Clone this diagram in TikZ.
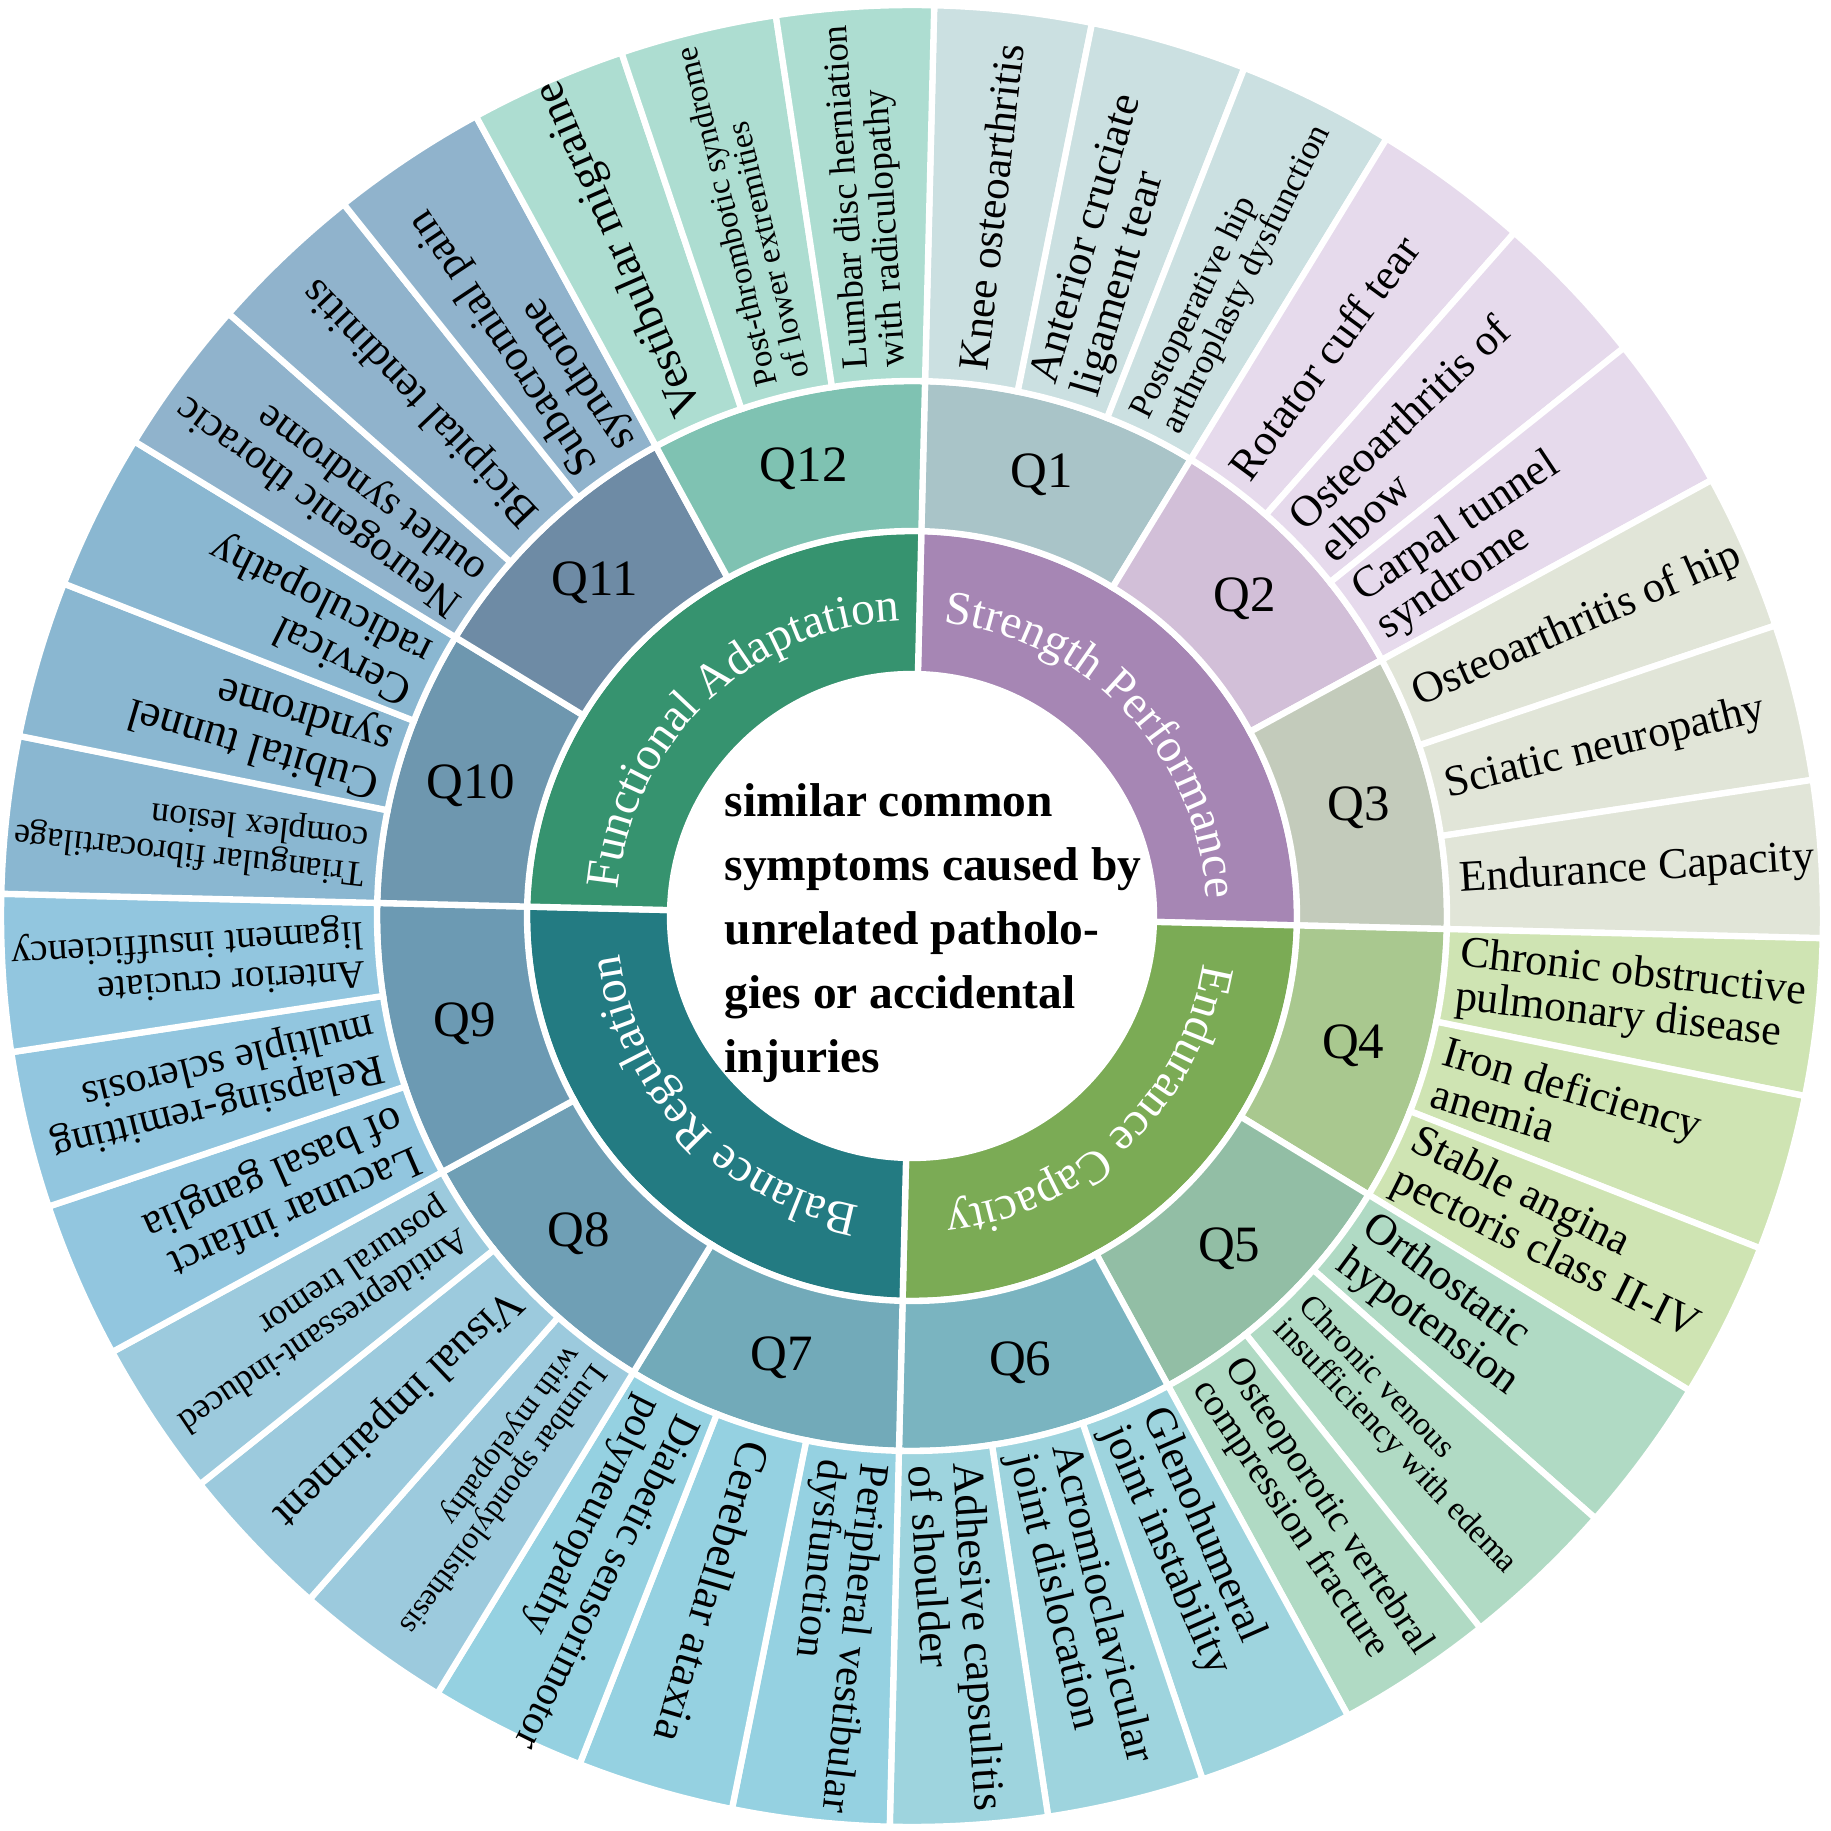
\documentclass[tikz,border=0pt]{standalone}
\usepackage{fontspec}
\setmainfont{Liberation Serif}
\usetikzlibrary{decorations.text}

\definecolor{catstrength}{HTML}{A686B4}
\definecolor{catendurance}{HTML}{7BAB55}
\definecolor{catbalance}{HTML}{237B82}
\definecolor{catfunction}{HTML}{36936F}
\definecolor{qcol1}{HTML}{A9C4C8}
\definecolor{qcol2}{HTML}{D2BFD8}
\definecolor{qcol3}{HTML}{C3CBBB}
\definecolor{qcol4}{HTML}{A9C88F}
\definecolor{qcol5}{HTML}{92BEA5}
\definecolor{qcol6}{HTML}{7AB4C0}
\definecolor{qcol7}{HTML}{72AAB9}
\definecolor{qcol8}{HTML}{6F9FB5}
\definecolor{qcol9}{HTML}{6C9AB3}
\definecolor{qcol10}{HTML}{6E97AF}
\definecolor{qcol11}{HTML}{6E8BA5}
\definecolor{qcol12}{HTML}{7FC2B2}
\definecolor{leaf1}{HTML}{CBE0E1}
\definecolor{leaf2}{HTML}{E6DAEC}
\definecolor{leaf3}{HTML}{E1E5D8}
\definecolor{leaf4}{HTML}{CFE4B3}
\definecolor{leaf5}{HTML}{B0DAC4}
\definecolor{leaf6}{HTML}{9ED4DE}
\definecolor{leaf7}{HTML}{95D1E1}
\definecolor{leaf8}{HTML}{9CCADD}
\definecolor{leaf9}{HTML}{92C6DF}
\definecolor{leaf10}{HTML}{8AB7D1}
\definecolor{leaf11}{HTML}{90B3CC}
\definecolor{leaf12}{HTML}{ADDDD1}

\newcommand{\catfont}{\fontsize{13.5}{15}\selectfont}
\newcommand{\ringpart}[5]{%
  \fill[#5, draw=white, line width=1.8pt] (#1:#3) arc[start angle=#1, end angle=#2, radius=#3]
    -- (#2:#4) arc[start angle=#2, end angle=#1, radius=#4] -- cycle;}

% angle/size/colour/text of the outer leaves, clockwise from the top
\def\leaflist{85/12.3/leaf1/{Knee osteoarthritis},
  75/12.5/leaf1/{Anterior cruciate\\ligament tear},
  65/9.9/leaf1/{Postoperative hip\\arthroplasty dysfunction},
  55/12.5/leaf2/{Rotator cuff tear},
  45/12.5/leaf2/{Osteoarthritis of\\elbow},
  35/12.5/leaf2/{Carpal tunnel\\syndrome},
  25/12.5/leaf3/{Osteoarthritis of hip},
  15/12.5/leaf3/{Sciatic neuropathy},
  5/12.5/leaf3/{Endurance Capacity},
  -5/12.5/leaf4/{Chronic obstructive\\pulmonary disease},
  -15/12.5/leaf4/{Iron deficiency\\anemia},
  -25/12.5/leaf4/{Stable angina\\pectoris class II-IV},
  -35/12.5/leaf5/{Orthostatic\\hypotension},
  -45/9.5/leaf5/{Chronic venous\\insufficiency with edema},
  -55/11/leaf5/{Osteoporotic vertebral\\compression fracture},
  -65/12.5/leaf6/{Glenohumeral\\joint instability},
  -75/12.4/leaf6/{Acromioclavicular\\joint dislocation},
  -85/12.7/leaf6/{Adhesive capsulitis\\of shoulder},
  -95/12/leaf7/{Peripheral vestibular\\dysfunction},
  -105/13/leaf7/{Cerebellar ataxia},
  -115/11.8/leaf7/{Diabetic sensorimotor\\polyneuropathy},
  -125/9/leaf8/{Lumbar spondylolisthesis\\with myelopathy},
  -135/12.5/leaf8/{Visual impairment},
  -145/10.2/leaf8/{Antidepressant-induced\\postural tremor},
  -155/12.5/leaf9/{Lacunar infarct\\of basal ganglia},
  -165/12.1/leaf9/{Relapsing-remitting\\multiple sclerosis},
  -175/11.2/leaf9/{Anterior cruciate\\ligament insufficiency},
  175/10.2/leaf10/{Triangular fibrocartilage\\complex lesion},
  165/13/leaf10/{Cubital tunnel\\syndrome},
  155/12.5/leaf10/{Cervical\\radiculopathy},
  145/12/leaf11/{Neurogenic thoracic\\outlet syndrome},
  135/12.4/leaf11/{Bicipital tendinitis},
  125/12.5/leaf11/{Subacromial pain\\syndrome},
  115/13/leaf12/{Vestibular migraine},
  105/9.3/leaf12/{Post-thrombotic syndrome\\of lower extremities},
  95/10.5/leaf12/{Lumbar disc herniation\\with radiculopathy}}

\begin{document}
\begin{tikzpicture}[
    qlabel/.style={font=\fontsize{14.5}{16}\selectfont, inner sep=0pt},
    leaflabel/.style={anchor=west, align=left, inner sep=1pt},
    middletext/.style={font=\fontsize{13.5}{18.2}\selectfont\bfseries, align=left},
    cattext/.style={decorate, decoration={text along path, text color=white, text align=center, text={|\catfont|#1}}},
    ]
    \useasboundingbox (-9.12,-9.15) rectangle (9.19,9.16);
    \def\rot{-1.4}

    % inner ring
    \foreach \s/\c in {0/catstrength, -90/catendurance, 180/catbalance, 90/catfunction} {
        \pgfmathsetmacro\aa{\s+\rot}
        \pgfmathsetmacro\bb{\s+90+\rot}
        \ringpart{\aa}{\bb}{2.42}{3.85}{\c}
    }

    % question ring
    \foreach \k in {1,...,12} {
        \pgfmathsetmacro\aa{90-30*\k+\rot}
        \pgfmathsetmacro\bb{120-30*\k+\rot}
        \ringpart{\aa}{\bb}{3.85}{5.35}{qcol\k}
    }

    % outer ring
    \foreach \a/\s/\c/\t in \leaflist {
        \pgfmathsetmacro\aa{\a-5+\rot}
        \pgfmathsetmacro\bb{\a+5+\rot}
        \ringpart{\aa}{\bb}{5.35}{9.11}{\c}
    }

    \foreach \k in {1,...,12} {
        \pgfmathsetmacro\mm{105-30*\k+\rot}
        \node[qlabel] (q\k) at (\mm:4.6) {Q\k};
    }

    \foreach \a/\s/\c/\t [count=\i] in \leaflist {
        \pgfmathsetmacro\mm{\a+\rot}
        \node[leaflabel, rotate=\mm, font=\fontsize{\s}{\s}\selectfont] (leaf\i) at (\mm:5.45) {\t};
    }

    \path[cattext=Strength Performance] (88.6:2.95) arc[start angle=88.6, end angle=-1.4, radius=2.95];
    \path[cattext=Endurance Capacity] (-1.4:2.95) arc[start angle=-1.4, end angle=-91.4, radius=2.95];
    \path[cattext=Balance Regulation] (268.6:2.95) arc[start angle=268.6, end angle=178.6, radius=2.95];
    \path[cattext=Functional Adaptation] (178.6:2.95) arc[start angle=178.6, end angle=88.6, radius=2.95];

    \node[middletext] (centre) at (0.21,-0.17) {similar common\\symptoms caused by\\unrelated patholo-\\gies or accidental\\injuries};
\end{tikzpicture}
\end{document}
